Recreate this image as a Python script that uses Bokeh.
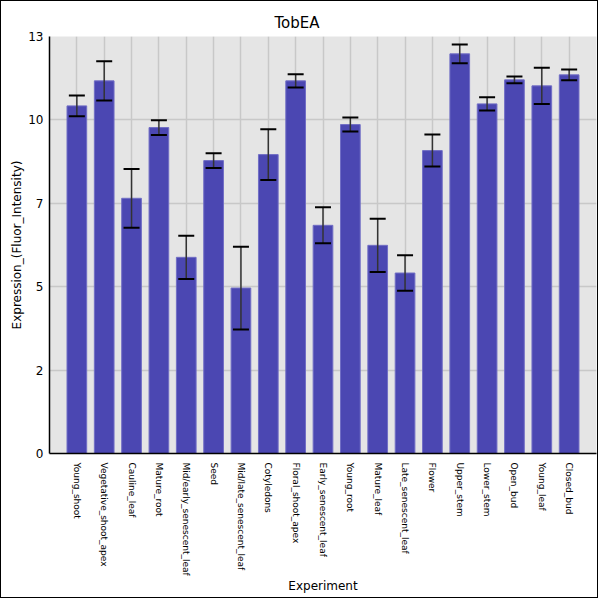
import math
from bokeh.plotting import figure
from bokeh.models import ColumnDataSource, Range1d, FactorRange, FixedTicker, Whisker, TeeHead
from bokeh.embed import file_html
from bokeh.resources import INLINE

title_text = "TobEA"
x_label = "Experiment"
y_label = "Expression_(Fluor_Intensity)"

categories = ["Young_shoot", "Vegetative_shoot_apex", "Cauline_leaf", "Mature_root",
              "Mid/early_senescent_leaf", "Seed", "Mid/late_senescent_leaf", "Cotyledons",
              "Floral_shoot_apex", "Early_senescent_leaf", "Young_root", "Mature_leaf",
              "Late_senescent_leaf", "Flower", "Upper_stem", "Lower_stem", "Open_bud",
              "Young_leaf", "Closed_bud"]
means = [10.42, 11.17, 7.65, 9.77, 5.88, 8.78, 4.96, 8.96, 11.17, 6.84, 9.86, 6.24,
         5.41, 9.08, 11.98, 10.48, 11.20, 11.02, 11.35]
errors = [0.31, 0.59, 0.88, 0.22, 0.65, 0.22, 1.24, 0.76, 0.20, 0.54, 0.21, 0.80,
          0.53, 0.48, 0.28, 0.20, 0.10, 0.54, 0.16]

y_ticks = [0, 2.5, 5, 7.5, 10, 12.5]
y_tick_labels = ["0", "2", "5", "7", "10", "13"]

FONT = "DejaVu Sans"

src = ColumnDataSource(dict(
    cat=categories,
    mean=means,
    upper=[m + e for m, e in zip(means, errors)],
    lower=[m - e for m, e in zip(means, errors)],
))

p = figure(x_range=FactorRange(*categories, range_padding=0.5, range_padding_units="absolute"),
           y_range=Range1d(0, 12.5),
           width=598, height=598, output_backend="svg", toolbar_location=None,
           min_border_left=48, min_border_right=3, min_border_top=35, min_border_bottom=146)
p.styles = {"border": "1px solid black"}

p.title.text = title_text
p.title.text_font = FONT
p.title.text_font_size = "15px"
p.title.text_font_style = "normal"
p.title.text_color = "black"
p.title.align = "left"
p.title.offset = 225

p.background_fill_color = "#e5e5e5"
p.border_fill_color = "white"
p.outline_line_color = None

p.vbar(x="cat", top="mean", width=0.72, source=src,
       fill_color="#4b47b2", line_color="#716ec5", line_width=1)

w = Whisker(base="cat", upper="upper", lower="lower", source=src,
            line_color="#333333", line_width=1.5, level="overlay",
            upper_head=TeeHead(size=16, line_color="black", line_width=2),
            lower_head=TeeHead(size=16, line_color="black", line_width=2))
p.add_layout(w)

p.xgrid.grid_line_color = "#c8c8c8"
p.xgrid.grid_line_width = 1.5
p.ygrid.grid_line_color = "#c8c8c8"
p.ygrid.grid_line_width = 1.5
p.ygrid.ticker = FixedTicker(ticks=y_ticks)

p.yaxis.ticker = FixedTicker(ticks=y_ticks)
p.yaxis.major_label_overrides = {t: l for t, l in zip(y_ticks, y_tick_labels)}
p.yaxis.minor_tick_line_color = None

for ax in (p.xaxis[0], p.yaxis[0]):
    ax.axis_line_color = "black"
    ax.axis_line_width = 1.5
    ax.major_tick_line_color = None
    ax.minor_tick_line_color = None
    ax.major_label_text_color = "black"
    ax.axis_label_text_color = "black"
    ax.axis_label_text_font = FONT
    ax.major_label_text_font = FONT
    ax.axis_label_text_font_style = "normal"
    ax.axis_label_text_font_size = "12px"

p.yaxis.axis_label = y_label
p.yaxis.major_label_text_font_size = "12px"
p.yaxis.major_label_standoff = 0
p.yaxis.axis_label_standoff = 1

p.xaxis.axis_label = x_label
p.xaxis.major_label_text_font_size = "9px"
p.xaxis.major_label_orientation = -math.pi / 2
p.xaxis.major_label_standoff = 3
p.xaxis.axis_label_standoff = 0

open("out.html", "w").write(file_html(p, INLINE))
